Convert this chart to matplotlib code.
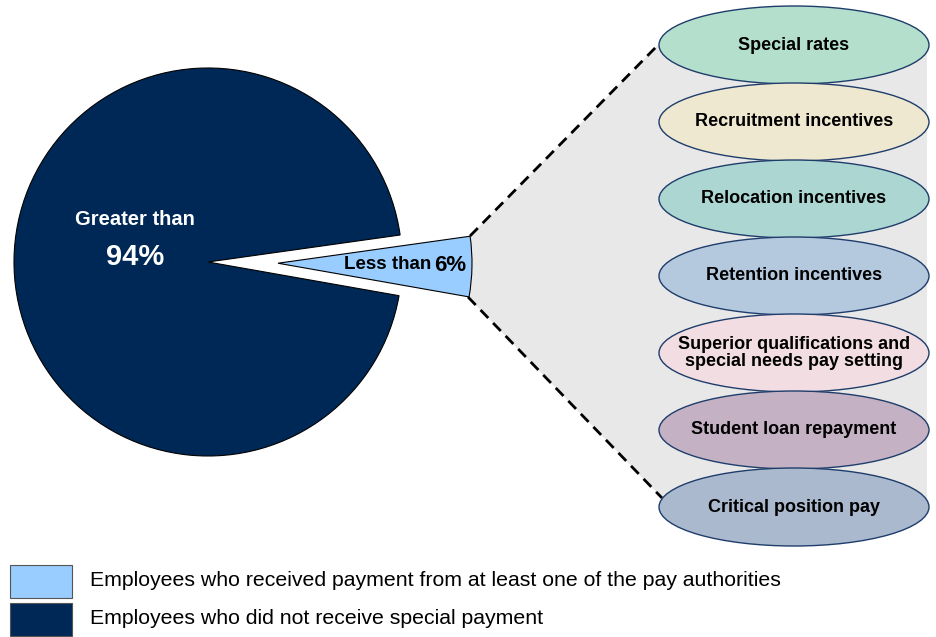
import matplotlib.pyplot as plt
from matplotlib.patches import Ellipse, Rectangle, Polygon

plt.rcParams['font.family'] = ['Liberation Sans', 'DejaVu Sans']

# data
shares = [5, 95]                       # small wedge, big wedge (percent)
share_colors = ['#99ccff', '#002856']
legend_labels = ['Employees who received payment from at least one of the pay authorities',
                 'Employees who did not receive special payment']
authorities = ['Special rates', 'Recruitment incentives', 'Relocation incentives',
               'Retention incentives', 'Superior qualifications and\nspecial needs pay setting',
               'Student loan repayment', 'Critical position pay']
auth_colors = ['#b4dfcd', '#efe8d0', '#acd6d2', '#b4c8de', '#f2dee2', '#c4b2c4', '#aab9cd']

H = 637
fig = plt.figure(figsize=(9.37, 6.37), dpi=100)
ax = fig.add_axes([0, 0, 1, 1])

# gray connector area + dashed lines
wedge_top = (470, H - 236)
wedge_bot = (468, H - 297)
gray = Polygon([wedge_top, (660, H - 43), (927, H - 43), (927, H - 505),
                (662, H - 498), wedge_bot], closed=True, facecolor='#e8e8e8',
               edgecolor='none', zorder=0)
ax.add_patch(gray)
ax.plot([wedge_top[0], 660], [wedge_top[1], H - 43], color='black', lw=2,
        ls=(0, (4, 2.5)), zorder=1)
ax.plot([wedge_bot[0], 662], [wedge_bot[1], H - 498], color='black', lw=2,
        ls=(0, (4, 2.5)), zorder=1)

# pie (explode is in data units here)
ax.pie(shares, colors=share_colors, startangle=-10, center=(208, H - 262), radius=194,
       explode=[70, 0], frame=True,
       wedgeprops=dict(edgecolor='black', linewidth=0.8))

ax.text(135, H - 220, 'Greater than', color='white', fontsize=14.5, fontweight='bold',
        ha='center', va='center')
ax.text(135, H - 257, '94%', color='white', fontsize=21, fontweight='bold',
        ha='center', va='center')
ax.text(437, H - 265, 'Less than ', color='black', fontsize=13.5, fontweight='bold',
        ha='right', va='center')
ax.text(466, H - 266, '6%', color='black', fontsize=16, fontweight='bold',
        ha='right', va='center')

# ellipses with pay authorities
for i, (name, col) in enumerate(zip(authorities, auth_colors)):
    cy = H - (45 + i * 77)
    ax.add_patch(Ellipse((794, cy), 270, 78, facecolor=col, edgecolor='#1f3d6b',
                         linewidth=1, zorder=2))
    ax.text(794, cy, name, ha='center', va='center', fontsize=13, fontweight='bold',
            linespacing=1.0, zorder=3)

# legend
box_y = [565, 603]
for lab, col, y0 in zip(legend_labels, share_colors, box_y):
    ax.add_patch(Rectangle((10, H - y0 - 33), 62, 33, facecolor=col,
                           edgecolor='#555555', linewidth=0.8))
    ax.text(90, H - y0 - 16, lab, fontsize=15.3, ha='left', va='center')

ax.set_xlim(0, 937)
ax.set_ylim(0, H)
ax.set_aspect('equal')
ax.axis('off')

fig.savefig('out.png', dpi=100)
